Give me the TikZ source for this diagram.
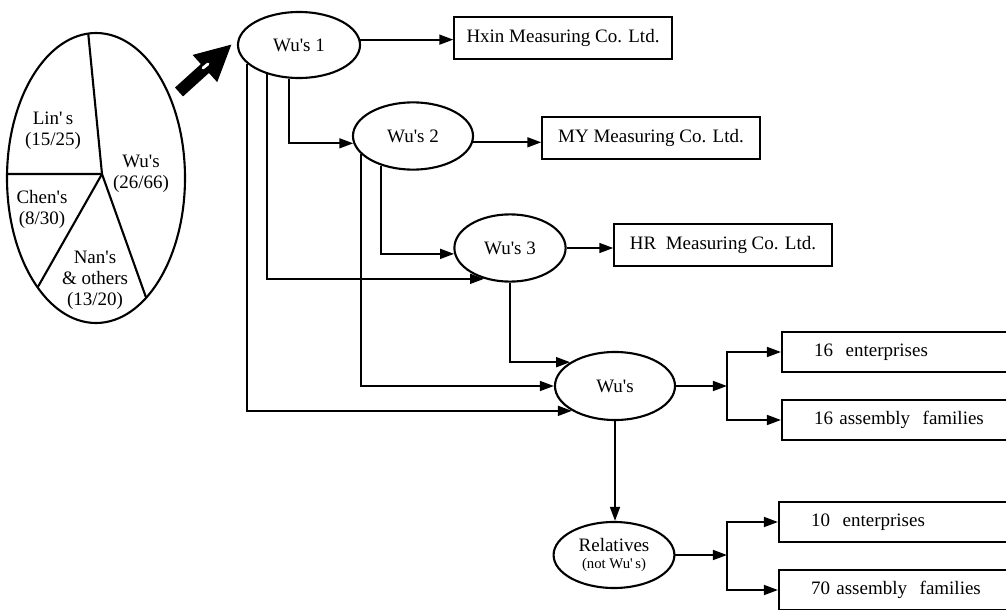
\documentclass[tikz,border=0pt]{standalone}
\usepackage{fontspec}
\setmainfont{Liberation Serif}
\usetikzlibrary{shapes.geometric,arrows.meta,calc}

\begin{document}
\begin{tikzpicture}[x=0.025cm, y=-0.025cm, line width=1.5pt,
	font=\fontsize{13.5}{15}\selectfont,
	oval/.style={draw, ellipse, inner sep=0pt, fill=white},
	firm/.style={draw, rectangle, minimum width=5.43cm, minimum height=1.03cm},
	unit/.style={draw, rectangle, anchor=west, minimum height=1cm, text width=5.6cm, inner xsep=0.8cm, align=left},
	arr/.style={-{Triangle[length=10pt,width=7pt]}}]
\clip (0,0) rectangle (1006,610);
\coordinate (pc) at (96,178);
\coordinate (pm) at (102,174);
\draw (pc) ellipse [x radius=89, y radius=145];
\draw (pm) -- ($(pc)+(265:89 and 145)$);
\draw (pm) -- ($(pc)+(181.6:89 and 145)$);
\draw (pm) -- ($(pc)+(131:89 and 145)$);
\draw (pm) -- ($(pc)+(55.7:89 and 145)$);
\node[align=center] (lin) at (53,131) {Lin\textquotesingle\,s\\(15/25)};
\node[align=center] (wus) at (141,174) {Wu\textquotesingle s\\(26/66)};
\node[align=center] (chen) at (42,209) {Chen\textquotesingle s\\(8/30)};
\node[align=center] (nan) at (95,280) {Nan\textquotesingle s\\\& others\\(13/20)};
\coordinate (ta) at (179,92);
\coordinate (tb) at (232,44);
\draw[line width=8.5pt, -{Triangle[length=26pt,width=24pt]}] (ta) -- (tb);
\draw[white, line width=2pt, line cap=round] (203,68) -- (208,64);

\node[oval, minimum width=3.05cm, minimum height=1.65cm] (wuA) at (299,45) {Wu\textquotesingle s 1};
\node[oval, minimum width=3cm, minimum height=1.68cm] (wuB) at (413,136) {Wu\textquotesingle s 2};
\node[oval, minimum width=2.78cm, minimum height=1.68cm] (wuC) at (510,248) {Wu\textquotesingle s 3};
\node[oval, minimum width=3cm, minimum height=1.7cm] (wu) at (615,386) {Wu\textquotesingle s};
\node[oval, minimum width=3.02cm, minimum height=1.65cm, align=center] (rel) at (614,555)
	{Relatives\\[-3pt]{\fontsize{10.5}{11}\selectfont (not Wu\textquotesingle\,s)}};

\node[firm] (hxin) at (563,38) {Hxin Measuring Co. Ltd.};
\node[firm] (my) at (651,138) {MY Measuring Co. Ltd.};
\node[firm] (hr) at (723,245) {HR\ \ Measuring Co. Ltd.};
\node[unit] (entA) at (781,352) {16\ \ enterprises};
\node[unit] (famA) at (781,420) {16 assembly\ \ families};
\node[unit] (entB) at (778,522) {10\ \ enterprises};
\node[unit] (famB) at (778,590) {70 assembly\ \ families};

\draw[arr] (wuA.5) -- (wuA.5 -| hxin.west);
\draw[arr] (wuB.-6) -- (wuB.-6 -| my.west);
\draw[arr] (wuC.east) -- (wuC.east -| hr.west);
\draw[arr] (wuA.254) |- (wuB.187);
\draw[arr] (wuA.222) |- (wuC.230);
\draw[arr] (wuA.200) |- (wu.210);
\draw[arr] (wuB.223) |- (wuC.186);
\draw[arr] (wuB.199) |- (wu.west);
\draw[arr] (wuC.south) |- (wu.152);
\draw[arr] (wu.south) -- (wu.south |- rel.north);

\coordinate (fa) at (727,386);
\coordinate (fb) at (727,555);
\draw[arr] (wu.east) -- (fa);
\draw[arr] (fa) |- (entA.west);
\draw[arr] (fa) |- (famA.west);
\draw[arr] (rel.east) -- (fb);
\draw[arr] (fb) |- (entB.west);
\draw[arr] (fb) |- (famB.west);
\end{tikzpicture}
\end{document}
